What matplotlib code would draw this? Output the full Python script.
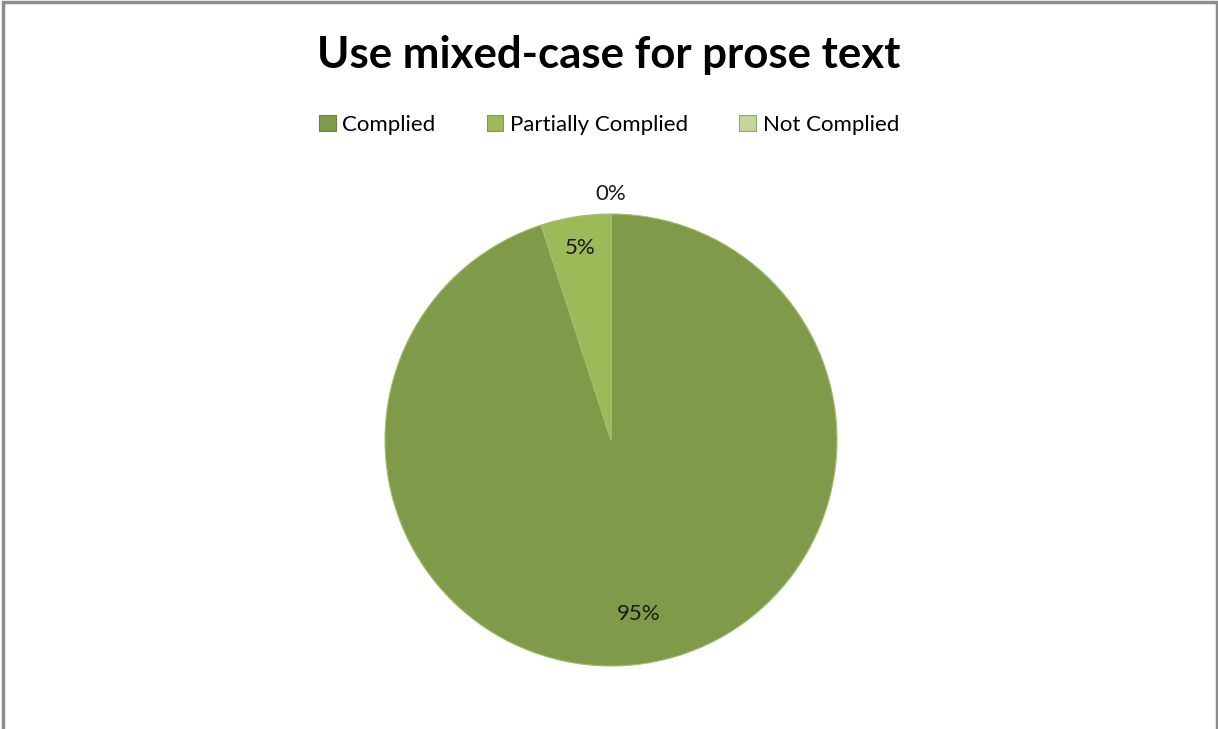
import numpy as np
import matplotlib.pyplot as plt
from matplotlib.patches import Rectangle

plt.rcParams['font.family'] = ['Lato', 'DejaVu Sans']

labels = ['Complied', 'Partially Complied', 'Not Complied']
values = [95, 5, 0]
colors = ['#7F9A48', '#9BBB59', '#C4D79B']
label_dist = [0.78, 0.86, 1.09]  # radial spot for each percent label

fig = plt.figure(figsize=(12.18, 7.29), dpi=100)
fig.patch.set_facecolor('white')

# outer chart frame
fig.add_artist(Rectangle((3 / 1218, -0.01), 1214 / 1218, 1.01 - 2.5 / 729,
                         transform=fig.transFigure, fill=False,
                         edgecolor='#8c8c8c', linewidth=2.5))

cx, cy, r = 611, 440, 226
ax = fig.add_axes([(cx - r) / 1218, (729 - cy - r) / 729, 2 * r / 1218, 2 * r / 729])
wedges, _ = ax.pie(values, colors=colors, startangle=90, counterclock=False,
                   radius=1.0, wedgeprops=dict(edgecolor='#A5BD72', linewidth=0.8))
ax.set_xlim(-1, 1)
ax.set_ylim(-1, 1)
ax.set_aspect('equal')
ax.axis('off')

for w, v, d in zip(wedges, values, label_dist):
    mid = np.deg2rad((w.theta1 + w.theta2) / 2)
    ax.text(d * np.cos(mid), d * np.sin(mid), f'{v}%', ha='center', va='center',
            fontsize=16, color='#1a1a1a')

fig.text(0.5, 1 - 55 / 729, 'Use mixed-case for prose text', ha='center', va='center',
         fontsize=31.5, fontweight='bold', color='black')

# legend squares get a darker outline
handles = [Rectangle((0, 0), 1, 1, facecolor=c, edgecolor=e, linewidth=0.8)
           for c, e in zip(colors, ['#6A8239', '#7F9A48', '#8FA862'])]
fig.legend(handles, labels, loc='center', bbox_to_anchor=(0.5, 1 - 125 / 729),
           ncol=3, frameon=False, fontsize=16, handlelength=0.75, handleheight=0.75,
           handletextpad=0.3, columnspacing=2.3)

fig.savefig('out.png', dpi=100)
